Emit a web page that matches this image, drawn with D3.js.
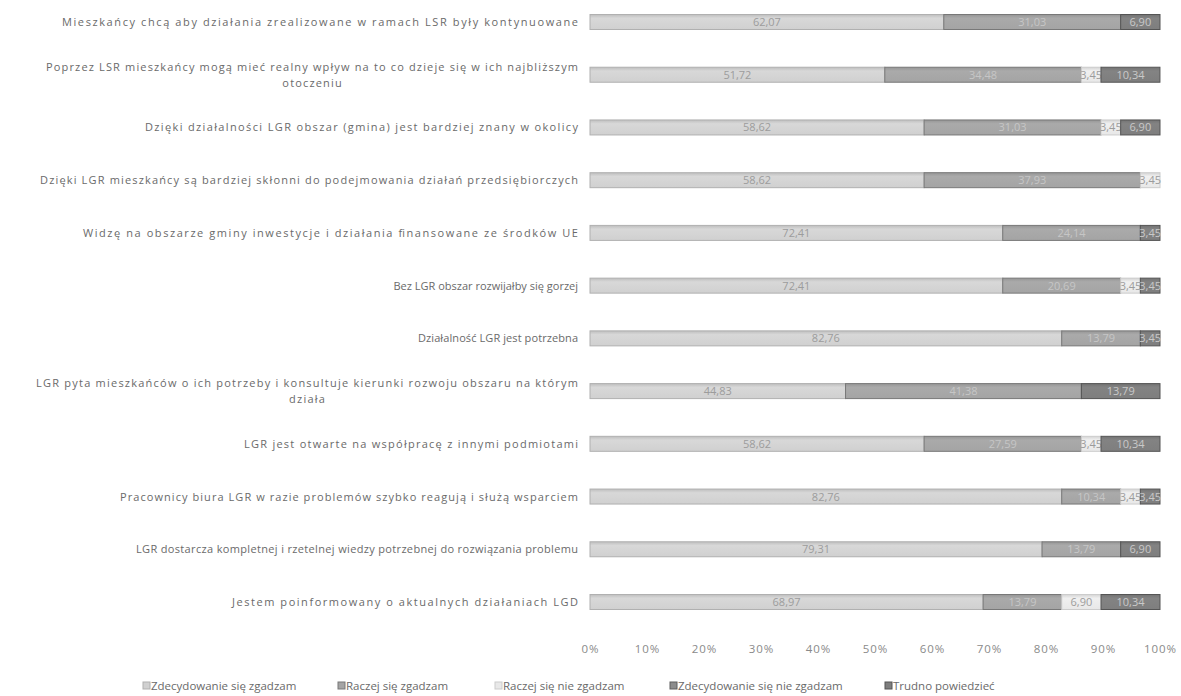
<!DOCTYPE html>
<html><head><meta charset="utf-8">
<script src="https://cdn.jsdelivr.net/npm/d3@7"></script>
<style>body{margin:0;background:#fff}svg{display:block}</style>
</head><body>
<svg id="c" width="1181" height="696"></svg>
<script>
const categories = [
  "Mieszkańcy chcą aby działania zrealizowane w ramach LSR były kontynuowane",
  "Poprzez LSR mieszkańcy mogą mieć realny wpływ na to co dzieje się w ich najbliższym|otoczeniu",
  "Dzięki działalności LGR obszar (gmina) jest bardziej znany w okolicy",
  "Dzięki LGR mieszkańcy są bardziej skłonni do podejmowania działań przedsiębiorczych",
  "Widzę na obszarze gminy inwestycje i działania finansowane ze środków UE",
  "Bez LGR obszar rozwijałby się gorzej",
  "Działalność LGR jest potrzebna",
  "LGR pyta mieszkańców o ich potrzeby i konsultuje kierunki rozwoju obszaru na którym|działa",
  "LGR jest otwarte na współpracę z innymi podmiotami",
  "Pracownicy biura LGR  w razie  problemów szybko reagują i służą wsparciem",
  "LGR dostarcza kompletnej i rzetelnej wiedzy potrzebnej do rozwiązania problemu",
  "Jestem poinformowany o aktualnych działaniach LGD"
];
const seriesNames = ["Zdecydowanie się zgadzam","Raczej się zgadzam","Raczej się nie zgadzam","Zdecydowanie się nie zgadzam","Trudno powiedzieć"];
const zdecydowanieTak = [62.07,51.72,58.62,58.62,72.41,72.41,82.76,44.83,58.62,82.76,79.31,68.97];
const raczejTak       = [31.03,34.48,31.03,37.93,24.14,20.69,13.79,41.38,27.59,10.34,13.79,13.79];
const raczejNie       = [0,3.45,3.45,3.45,0,3.45,0,0,3.45,3.45,0,6.90];
const zdecydowanieNie = [0,0,0,0,0,0,0,0,0,0,0,0];
const trudno          = [6.90,10.34,6.90,0,3.45,3.45,3.45,13.79,10.34,3.45,6.90,10.34];
const tickLabels = ["0%","10%","20%","30%","40%","50%","60%","70%","80%","90%","100%"];

// styling: left edge of each (first-line) category label, as in the scan
const labelLeft = [62,46,145,40,83,396,418,36,244,120,136,232];

const colors = ["#d0d0d0","#a4a4a4","#e8e8e8","#8c8c8c","#7e7e7e"];
const strokes = ["#b0b0b0","#787878","#cccccc","#5e5e5e","#555555"];
const textCol = ["#9c9c9c","#c6c6c6","#9c9c9c","#d0d0d0","#c9c9c9"];

const rows = categories.map((c,i)=>({cat:c, vals:[zdecydowanieTak[i],raczejTak[i],raczejNie[i],zdecydowanieNie[i],trudno[i]]}));
const svg = d3.select("#c");
const x = d3.scaleLinear().domain([0,100]).range([590,1160]);
const y = d3.scalePoint().domain(d3.range(categories.length)).range([22,602]);
const bh = 15;
const font = "'Open Sans', sans-serif";
const fs = 11;

const defs = svg.append("defs");
colors.forEach((c,i)=>{
  const g = defs.append("linearGradient").attr("id","g"+i).attr("x1",0).attr("x2",0).attr("y1",0).attr("y2",1);
  g.append("stop").attr("offset","0%").attr("stop-color",d3.color(c).darker(0.25));
  g.append("stop").attr("offset","25%").attr("stop-color",d3.color(c).brighter(0.1));
  g.append("stop").attr("offset","100%").attr("stop-color",c);
});

rows.forEach((r,i)=>{
  let acc = 0;
  const cy = y(i);
  r.vals.forEach((v,k)=>{
    if(v<=0) return;
    const x0 = x(acc), x1 = x(acc+v);
    svg.append("rect").attr("x",x0).attr("y",cy-bh/2).attr("width",x1-x0).attr("height",bh)
      .attr("fill","url(#g"+k+")").attr("stroke",strokes[k]).attr("stroke-width",1);
    svg.append("text").attr("x",(x0+x1)/2).attr("y",cy+4).attr("text-anchor","middle")
      .attr("font-family",font).attr("font-size",11).attr("fill",textCol[k])
      .text(v.toFixed(2).replace(".",","));
    acc += v;
  });
  const lines = r.cat.split("|");
  const w = 578 - labelLeft[i];
  const yy = lines.length===1 ? cy+4 : cy-4;
  const t1 = svg.append("text").attr("x",labelLeft[i]).attr("y",yy)
    .attr("font-family",font).attr("font-size",fs).attr("fill","#6a6a6a").text(lines[0]);
  const natural = t1.node().getComputedTextLength();
  if (w > natural) t1.attr("textLength",w).attr("lengthAdjust","spacing");
  else { t1.attr("x",578).attr("text-anchor","end"); }
  if(lines.length>1){
    const t2 = svg.append("text").attr("x",labelLeft[i]+w/2).attr("y",cy+12).attr("text-anchor","middle")
      .attr("font-family",font).attr("font-size",fs).attr("fill","#6a6a6a").text(lines[1]);
    const l2 = t2.node().getComputedTextLength();
    const extra = (w - natural) / Math.max(1, lines[0].length - 1);
    if (extra > 0) t2.attr("textLength", l2 + extra*(lines[1].length-1)).attr("lengthAdjust","spacing");
  }
});

const axis = d3.axisBottom(x).tickValues(d3.range(0,101,10)).tickSize(0).tickFormat((d,i)=>tickLabels[i]);
const ag = svg.append("g").attr("transform","translate(0,642)").call(axis);
ag.select(".domain").remove();
ag.selectAll("text").attr("font-family",font).attr("font-size",11.5).attr("fill","#8a8a8a")
  .attr("letter-spacing",1);

const legX = [143,338,495,670,885];
seriesNames.forEach((n,k)=>{
  const g = svg.append("g").attr("transform",`translate(${legX[k]},690)`);
  g.append("rect").attr("x",0).attr("y",-8).attr("width",7).attr("height",7)
    .attr("fill",colors[k]).attr("stroke",strokes[k]);
  g.append("text").attr("x",8).attr("y",0).attr("font-family",font).attr("font-size",11.5)
    .attr("fill","#6a6a6a").text(n);
});
</script>
</body></html>
